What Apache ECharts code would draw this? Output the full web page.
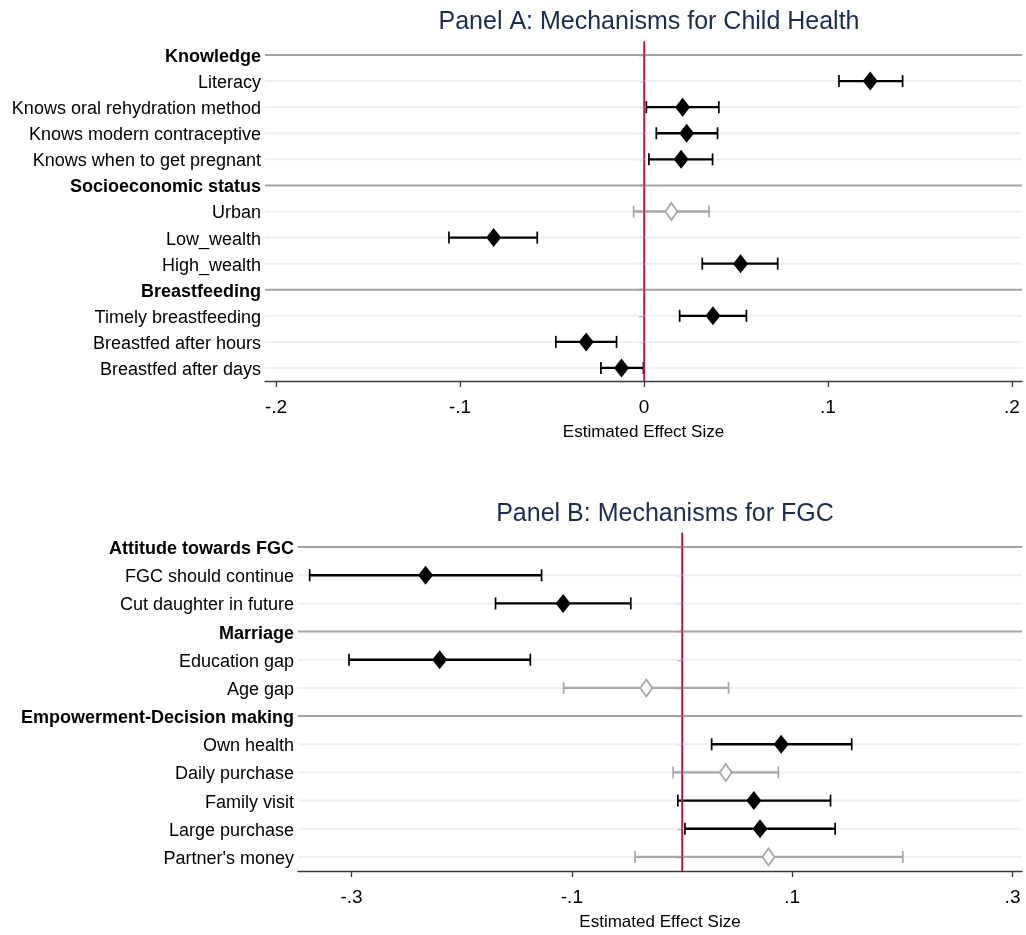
<!DOCTYPE html>
<html>
<head>
<meta charset="utf-8">
<script src="https://cdn.jsdelivr.net/npm/echarts@6/dist/echarts.min.js"></script>
<style>html,body{margin:0;padding:0;background:#fff}#c{width:1026px;height:935px}</style>
</head>
<body>
<div id="c"></div>
<script>
// ---------- Panel A data ----------
const catsA = ['Knowledge','Literacy','Knows oral rehydration method','Knows modern contraceptive','Knows when to get pregnant',
  'Socioeconomic status','Urban','Low_wealth','High_wealth','Breastfeeding','Timely breastfeeding','Breastfed after hours','Breastfed after days'];
const headersA = ['Knowledge','Socioeconomic status','Breastfeeding'];
const itemsA = ['Literacy','Knows oral rehydration method','Knows modern contraceptive','Knows when to get pregnant','Urban','Low_wealth','High_wealth','Timely breastfeeding','Breastfed after hours','Breastfed after days'];
const estA = [0.123, 0.021, 0.0232, 0.0202, 0.0149, -0.0817, 0.0525, 0.0375, -0.0314, -0.0122];
const loA  = [0.106, 0.0013, 0.0067, 0.0027, -0.0056, -0.106, 0.0317, 0.0194, -0.0479, -0.0234];
const hiA  = [0.1406, 0.0407, 0.040, 0.0373, 0.0354, -0.058, 0.0727, 0.0557, -0.0149, -0.0003];
const sigA = [1,1,1,1,0,1,1,1,1,1];
const ticksA = [-0.2,-0.1,0,0.1,0.2];

// ---------- Panel B data ----------
const catsB = ['Attitude towards FGC','FGC should continue','Cut daughter in future','Marriage','Education gap','Age gap',
  'Empowerment-Decision making','Own health','Daily purchase','Family visit','Large purchase',"Partner's money"];
const headersB = ['Attitude towards FGC','Marriage','Empowerment-Decision making'];
const itemsB = ['FGC should continue','Cut daughter in future','Education gap','Age gap','Own health','Daily purchase','Family visit','Large purchase',"Partner's money"];
const estB = [-0.2328, -0.1079, -0.22, -0.0324, 0.09, 0.0397, 0.0652, 0.0708, 0.0785];
const loB  = [-0.338, -0.1693, -0.3023, -0.1075, 0.0269, -0.0081, -0.0038, 0.0026, -0.0426];
const hiB  = [-0.1275, -0.0465, -0.1377, 0.0422, 0.154, 0.0874, 0.1348, 0.139, 0.2004];
const sigB = [1,1,1,0,1,0,1,1,0];
const ticksB = [-0.3,-0.1,0.1,0.3];

const titleA = 'Panel A: Mechanisms for Child Health';
const titleB = 'Panel B: Mechanisms for FGC';
const xName = 'Estimated Effect Size';

const FONT = "'Liberation Sans','Arial',sans-serif";
const BLACK = '#000000', GRAY = '#a6a6a6';

function fmt(v){
  if (Math.abs(v) < 1e-9) return '0';
  const s = Math.abs(v).toFixed(1).replace(/^0/, '');
  return (v < 0 ? '-' : '') + s;
}

function rowLines(cats, headers, idx){
  return {
    type: 'custom', xAxisIndex: idx, yAxisIndex: idx, silent: true, z: 1,
    data: cats.map((c) => [c, headers.includes(c) ? 1 : 0]),
    encode: { y: 0 },
    renderItem: function(params, api){
      const cs = params.coordSys;
      const y = api.coord([0, api.value(0)])[1];
      const hdr = api.value(1) === 1;
      return { type: 'line', shape: { x1: cs.x, y1: y, x2: cs.x + cs.width, y2: y },
        style: { stroke: hdr ? '#a3a3a3' : '#eaf0f3', lineWidth: 2 } };
    }
  };
}

function errBars(items, lo, hi, sig, idx){
  return {
    type: 'custom', xAxisIndex: idx, yAxisIndex: idx, silent: true, z: 3,
    data: items.map((c, i) => [lo[i], hi[i], c, sig[i]]),
    encode: { x: [0, 1], y: 2 },
    renderItem: function(params, api){
      const p1 = api.coord([api.value(0), api.value(2)]);
      const p2 = api.coord([api.value(1), api.value(2)]);
      const s = api.value(3) === 1;
      const col = s ? BLACK : GRAY;
      const h = 6;
      return { type: 'group', children: [
        { type: 'line', shape: { x1: p1[0], y1: p1[1], x2: p2[0], y2: p2[1] }, style: { stroke: col, lineWidth: 2.3 } },
        { type: 'line', shape: { x1: p1[0], y1: p1[1]-h, x2: p1[0], y2: p1[1]+h }, style: { stroke: col, lineWidth: 1.7 } },
        { type: 'line', shape: { x1: p2[0], y1: p2[1]-h, x2: p2[0], y2: p2[1]+h }, style: { stroke: col, lineWidth: 1.7 } }
      ]};
    }
  };
}

function points(items, est, sig, idx, zeroLine){
  const s = {
    type: 'scatter', xAxisIndex: idx, yAxisIndex: idx, silent: true, z: 4,
    symbol: 'diamond',
    itemStyle: { opacity: 1 },
    data: items.map((c, i) => ({
      value: [est[i], c],
      symbolSize: sig[i] ? [15, 19] : [12, 17],
      itemStyle: sig[i] ? { color: BLACK, opacity: 1 } : { color: '#ffffff', borderColor: GRAY, borderWidth: 1.8, opacity: 1 }
    }))
  };
  if (zeroLine) {
    s.markLine = { silent: true, symbol: 'none', label: { show: false }, animation: false, z: 5,
      lineStyle: { color: '#e0103c', width: 1.5, type: 'solid', opacity: 1 }, data: [{ xAxis: 0 }] };
  }
  return s;
}

function yAxis(cats, headers, idx){
  return {
    type: 'category', gridIndex: idx, data: cats, inverse: true, boundaryGap: true,
    axisLine: { show: true, lineStyle: { color: '#3a3a3a', width: 1.3 } },
    axisTick: { show: true, alignWithLabel: true, length: 5, lineStyle: { color: '#3a3a3a', width: 1.3 } },
    axisLabel: {
      margin: 4, color: '#000', fontFamily: FONT, fontSize: 18, padding: [4, 0, 0, 0],
      formatter: (v) => headers.includes(v) ? '{b|' + v + '}' : v,
      rich: { b: { fontWeight: 'bold', fontFamily: FONT, fontSize: 18, color: '#000' } }
    },
    splitLine: { show: false }
  };
}

function xAxis(idx, min, max, ticks){
  return {
    type: 'value', gridIndex: idx, min: min, max: max,
    name: xName, nameLocation: 'middle', nameGap: 43,
    nameTextStyle: { color: '#000', fontFamily: FONT, fontSize: 17 },
    axisLine: { show: true, onZero: false, lineStyle: { color: '#3a3a3a', width: 1.3 } },
    axisTick: { show: true, length: 6, customValues: ticks, lineStyle: { color: '#3a3a3a', width: 1.3 } },
    axisLabel: { customValues: ticks, formatter: fmt, margin: 17, color: '#000', fontFamily: FONT, fontSize: 19 },
    splitLine: { show: false }
  };
}

const chart = echarts.init(document.getElementById('c'), null, { renderer: 'canvas' });
chart.setOption({
  backgroundColor: '#ffffff',
  animation: false,
  title: [
    { text: titleA, left: 644, top: 5, textAlign: 'center', textStyle: { color: '#1c2b4f', fontFamily: FONT, fontSize: 25, fontWeight: 'normal' } },
    { text: titleB, left: 660, top: 497, textAlign: 'center', textStyle: { color: '#1c2b4f', fontFamily: FONT, fontSize: 25, fontWeight: 'normal' } }
  ],
  grid: [
    { left: 265, top: 42, width: 757, height: 339 },
    { left: 298, top: 533, width: 724, height: 338 }
  ],
  xAxis: [ xAxis(0, -0.206, 0.2055, ticksA), xAxis(1, -0.3486, 0.3086, ticksB) ],
  yAxis: [ yAxis(catsA, headersA, 0), yAxis(catsB, headersB, 1) ],
  series: [
    rowLines(catsA, headersA, 0), errBars(itemsA, loA, hiA, sigA, 0), points(itemsA, estA, sigA, 0, true),
    rowLines(catsB, headersB, 1), errBars(itemsB, loB, hiB, sigB, 1), points(itemsB, estB, sigB, 1, true)
  ]
});
</script>
</body>
</html>
